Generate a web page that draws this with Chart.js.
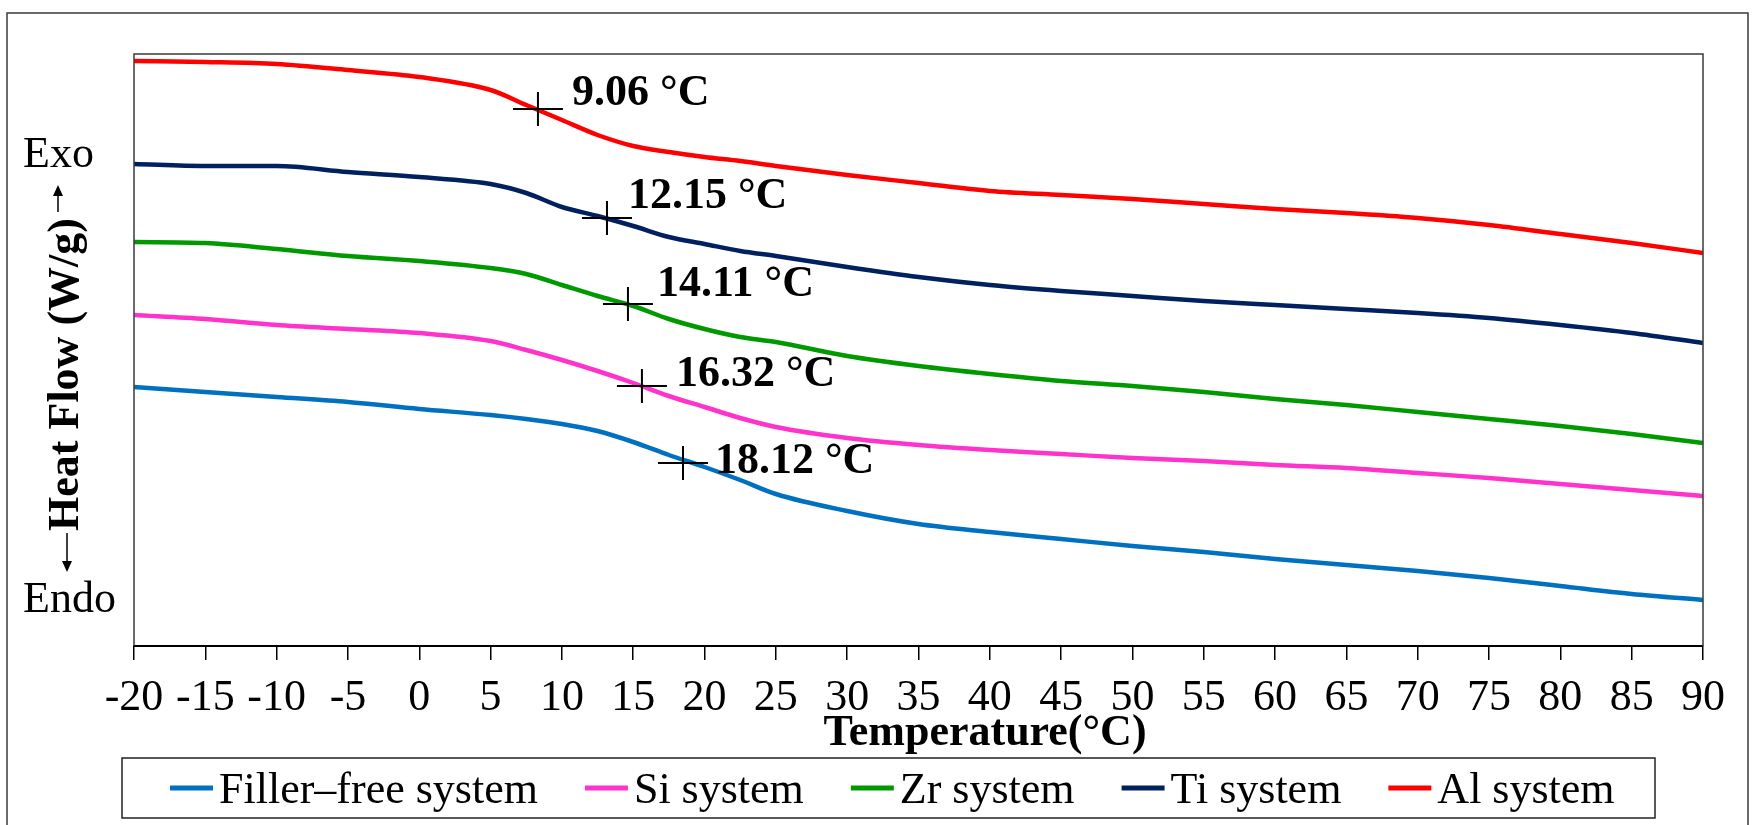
<!DOCTYPE html>
<html>
<head>
<meta charset="utf-8">
<script src="https://cdn.jsdelivr.net/npm/chart.js@4.4.1/dist/chart.umd.min.js"></script>
<style>
  html, body { margin: 0; padding: 0; background: #fff; }
</style>
</head>
<body>
<canvas id="dsc" width="1754" height="825"></canvas>
<script>
// DSC curves, heat flow in arbitrary units (curves are shifted vertically)
var temps = [-20, -15, -10, -5, 0, 5, 7.5, 10, 12.5, 15, 17.5, 20, 22.5, 25, 30, 35, 40, 45, 50, 55, 60, 65, 70, 75, 80, 85, 90];

var fillerFree = [2.59, 2.54, 2.49, 2.44, 2.37, 2.31, 2.27, 2.22, 2.15, 2.04, 1.91, 1.79, 1.66, 1.52, 1.35, 1.22, 1.14, 1.07, 1.00, 0.94, 0.87, 0.81, 0.75, 0.68, 0.60, 0.52, 0.46];
var siSystem   = [3.31, 3.27, 3.21, 3.17, 3.13, 3.05, 2.96, 2.86, 2.75, 2.63, 2.50, 2.39, 2.28, 2.19, 2.08, 2.01, 1.96, 1.92, 1.88, 1.85, 1.81, 1.78, 1.73, 1.68, 1.62, 1.56, 1.50];
var zrSystem   = [4.04, 4.03, 3.97, 3.90, 3.85, 3.78, 3.72, 3.61, 3.50, 3.40, 3.27, 3.17, 3.09, 3.04, 2.90, 2.80, 2.72, 2.65, 2.60, 2.54, 2.47, 2.41, 2.34, 2.27, 2.20, 2.12, 2.03];
var tiSystem   = [4.82, 4.80, 4.80, 4.74, 4.69, 4.62, 4.53, 4.39, 4.30, 4.20, 4.09, 4.02, 3.95, 3.90, 3.79, 3.69, 3.61, 3.55, 3.50, 3.45, 3.41, 3.37, 3.33, 3.28, 3.21, 3.13, 3.03];
var alSystem   = [5.85, 5.84, 5.82, 5.76, 5.69, 5.56, 5.41, 5.26, 5.11, 5.00, 4.94, 4.89, 4.85, 4.80, 4.71, 4.63, 4.55, 4.51, 4.47, 4.42, 4.37, 4.33, 4.28, 4.21, 4.12, 4.03, 3.93];

var seriesNames  = ["Filler\u2013free system", "Si system", "Zr system", "Ti system", "Al system"];
var seriesValues = [fillerFree, siSystem, zrSystem, tiSystem, alSystem];
var seriesColors = ["#0070C0", "#FF33CC", "#009A00", "#002060", "#FF0000"];

// glass transition markers (cross) and their labels
var tgLabels = ["18.12 \u00B0C", "16.32 \u00B0C", "14.11 \u00B0C", "12.15 \u00B0C", "9.06 \u00B0C"];
var tgCrossX = [18.49, 15.61, 14.63, 13.16, 8.32];
var tgCrossY = [1.83, 2.60, 3.42, 4.28, 5.37];
var tgTextX  = [20.73, 18.0, 16.67, 14.63, 10.71];
var tgTextY  = [1.84, 2.71, 3.61, 4.49, 5.52];

var xTicks = { min: -20, max: 90, step: 5 };

var serif = "'Liberation Serif', 'Times New Roman', serif";

var datasets = seriesValues.map(function(vals, i) {
    return {
        label: seriesNames[i],
        data: temps.map(function(t, j) { return { x: t, y: vals[j] }; }),
        borderColor: seriesColors[i],
        borderWidth: 4.5,
        pointRadius: 0,
        fill: false,
        cubicInterpolationMode: 'monotone'
    };
});

var deco = {
    id: 'deco',
    afterDraw: function(chart) {
        var ctx = chart.ctx;
        var a = chart.chartArea;
        var xs = chart.scales.x, ys = chart.scales.y;
        ctx.save();

        // outer frame
        ctx.strokeStyle = '#3a3a3a';
        ctx.lineWidth = 1.5;
        ctx.strokeRect(7, 13, 1741, 830);

        // plot box (left, top, right)
        ctx.beginPath();
        ctx.moveTo(a.left, a.bottom);
        ctx.lineTo(a.left, a.top);
        ctx.lineTo(a.right, a.top);
        ctx.lineTo(a.right, a.bottom);
        ctx.stroke();

        // Tg crosses
        ctx.strokeStyle = '#000';
        ctx.lineWidth = 2;
        for (var i = 0; i < tgLabels.length; i++) {
            var px = xs.getPixelForValue(tgCrossX[i]);
            var py = ys.getPixelForValue(tgCrossY[i]);
            ctx.beginPath();
            ctx.moveTo(px - 25, py); ctx.lineTo(px + 25, py);
            ctx.moveTo(px, py - 17); ctx.lineTo(px, py + 17);
            ctx.stroke();
        }

        // Tg labels
        ctx.fillStyle = '#000';
        ctx.font = 'bold 44px ' + serif;
        ctx.textAlign = 'left';
        ctx.textBaseline = 'middle';
        for (var k = 0; k < tgLabels.length; k++) {
            ctx.fillText(tgLabels[k], xs.getPixelForValue(tgTextX[k]), ys.getPixelForValue(tgTextY[k]));
        }

        // x axis title
        ctx.textAlign = 'center';
        ctx.textBaseline = 'alphabetic';
        ctx.fillText('Temperature(\u00B0C)', 985, 745);

        // y axis title
        ctx.save();
        ctx.translate(78, 374.5);
        ctx.rotate(-Math.PI / 2);
        ctx.fillText('Heat Flow (W/g)', 0, 0);
        ctx.restore();

        // arrows
        ctx.lineWidth = 1.5;
        ctx.beginPath();
        ctx.moveTo(58, 212); ctx.lineTo(58, 194);
        ctx.moveTo(67, 533); ctx.lineTo(67, 563);
        ctx.stroke();
        ctx.beginPath();
        ctx.moveTo(58, 185); ctx.lineTo(53, 196); ctx.lineTo(63, 196); ctx.closePath();
        ctx.moveTo(67, 572); ctx.lineTo(62, 561); ctx.lineTo(72, 561); ctx.closePath();
        ctx.fill();

        ctx.font = '44px ' + serif;
        ctx.textAlign = 'left';
        ctx.fillText('Exo', 23, 167);
        ctx.fillText('Endo', 23, 612);

        // legend
        ctx.strokeStyle = '#222';
        ctx.lineWidth = 1.5;
        ctx.strokeRect(122, 758, 1533, 60);
        var lx = 170;
        chart.data.datasets.forEach(function(ds) {
            ctx.strokeStyle = ds.borderColor;
            ctx.lineWidth = 5;
            ctx.beginPath();
            ctx.moveTo(lx, 788); ctx.lineTo(lx + 43, 788);
            ctx.stroke();
            ctx.fillStyle = '#000';
            ctx.fillText(ds.label, lx + 49, 803);
            lx += 49 + ctx.measureText(ds.label).width + 47;
        });

        ctx.restore();
    }
};

new Chart(document.getElementById('dsc'), {
    type: 'line',
    data: { datasets: datasets },
    options: {
        responsive: false,
        animation: false,
        devicePixelRatio: 1,
        layout: { padding: { left: 134, right: 51, top: 54, bottom: 0 } },
        plugins: { legend: { display: false }, tooltip: { enabled: false } },
        scales: {
            x: {
                type: 'linear',
                min: xTicks.min,
                max: xTicks.max,
                afterFit: function(s) { s.height = 179; },
                border: { display: true, color: '#000', width: 2 },
                grid: { drawOnChartArea: false, drawTicks: true, tickLength: 14, color: '#000', lineWidth: 1.5 },
                ticks: {
                    stepSize: xTicks.step,
                    autoSkip: false,
                    maxRotation: 0,
                    minRotation: 0,
                    padding: 12,
                    color: '#000',
                    font: { family: serif, size: 44 },
                    callback: function(v) { return String(v); }
                }
            },
            y: { display: false, min: 0, max: 5.92 }
        }
    },
    plugins: [deco]
});
</script>
</body>
</html>
